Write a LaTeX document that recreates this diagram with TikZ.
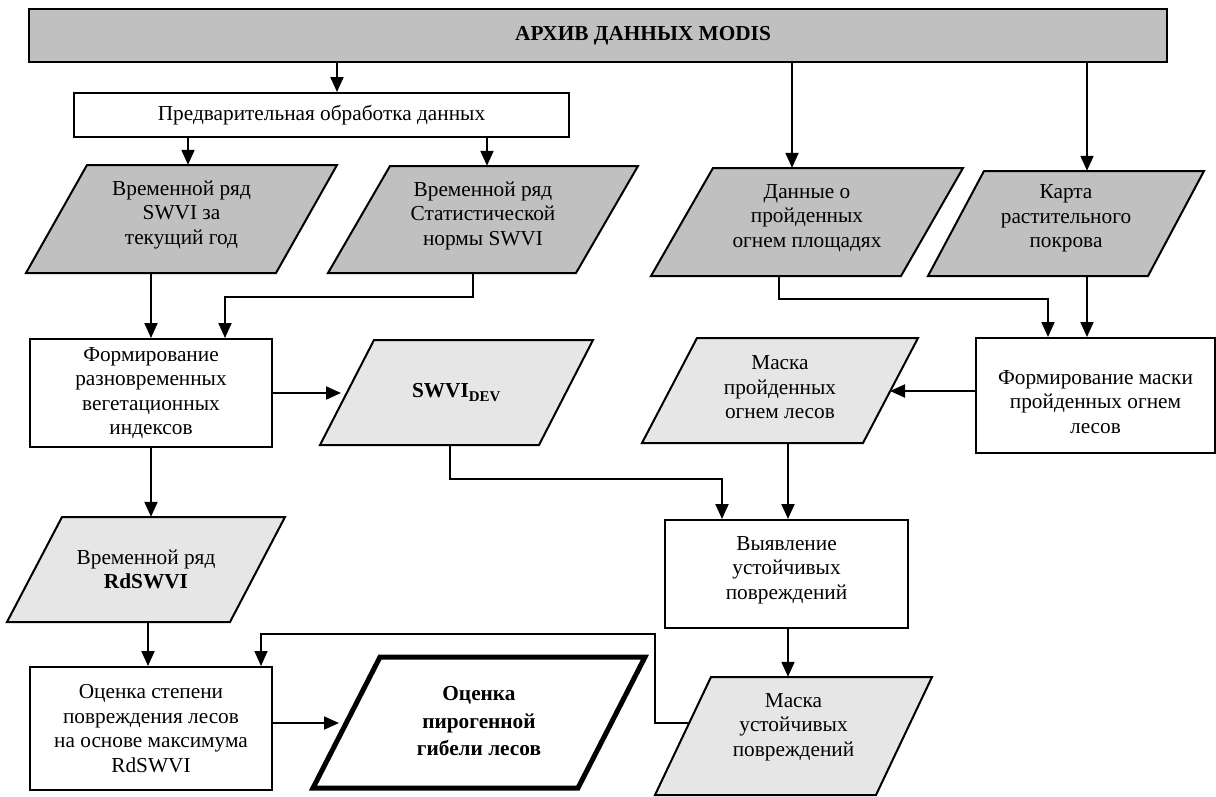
\documentclass[tikz,border=0pt]{standalone}
\usepackage{fontspec}
\setmainfont{Liberation Serif}
\usetikzlibrary{arrows.meta,calc}
\definecolor{dgray}{HTML}{C0C0C0}
\definecolor{lgray}{HTML}{E6E6E6}
\newcommand{\Para}[9]{%
  \filldraw[#2] (#3,#6) -- ({#4-#7},#6) -- (#4,#5) -- ({#3+#7},#5) -- cycle;
  \node[paranode, minimum width={#4-#3}, minimum height={#6-#5}] (#1) at ({(#3+#4)/2},{(#5+#6)/2}) {};
  \node[paranode, #8] (#1-t) at (#1.center) {#9};
}
\begin{document}
\begin{tikzpicture}[x=1pt,y=-1pt,
  every node/.style={font=\fontsize{21.3}{24.5}\selectfont},
  box/.style={draw, line width=2pt, fill=white, inner sep=0pt, align=center},
  paranode/.style={inner sep=0pt, align=center},
  dpara/.style={draw=black, line width=2pt, fill=dgray},
  lpara/.style={draw=black, line width=2pt, fill=lgray},
  wpara/.style={draw=black, line width=5pt, fill=white},
  arr/.style={line width=2pt, -{Triangle[length=15pt,width=13pt]}},
  ln/.style={line width=1.6pt, -{Triangle[length=15pt,width=13pt]}}
]
\useasboundingbox (0,0) rectangle (1216,796);
\fill[white] (0,0) rectangle (1216,796);

% top bar
\node[box, fill=dgray, minimum width=1138pt, minimum height=53pt] (bar) at (598,35.5) {};
\node[inner sep=0pt] (bart) at (643,36) {\textbf{АРХИВ ДАННЫХ MODIS}};

% preprocessing
\node[box, minimum width=495pt, minimum height=44pt] (pred) at (321.5,115) {Предварительная обработка данных};

% input parallelograms
\Para{p1}{dpara}{26}{337}{165}{273}{61}{yshift=4}{Временной ряд\\SWVI за\\текущий год}
\Para{p2}{dpara}{328}{638}{166}{273}{62}{yshift=4}{Временной ряд\\Статистической\\нормы SWVI}
\Para{p3}{dpara}{651}{963}{168}{276}{62}{yshift=4}{Данные о\\пройденных\\огнем площадях}
\Para{p4}{dpara}{928}{1204}{171}{276}{56}{yshift=5}{Карта\\растительного\\покрова}

% process boxes
\node[box, minimum width=242pt, minimum height=108pt] (form) at (151,393) {Формирование\\разновременных\\вегетационных\\индексов};
\node[box, minimum width=239pt, minimum height=115pt] (fmask) at (1095.5,395.5) {};
\node[inner sep=0pt, align=center, yshift=-6.5] (fmask-t) at (fmask.center) {Формирование маски\\пройденных огнем\\лесов};
\node[box, minimum width=243pt, minimum height=108pt] (vyy) at (786.5,574) {};
\node[inner sep=0pt, align=center, yshift=4] (vyy-t) at (vyy.center) {Выявление\\устойчивых\\повреждений};
\node[box, minimum width=242pt, minimum height=123pt] (ocen) at (151,728.5) {Оценка степени\\повреждения лесов\\на основе максимума\\RdSWVI};

% derived parallelograms
\Para{dev}{lpara}{320}{593}{340}{445}{54}{}{\textbf{SWVI\textsubscript{DEV}}}
\Para{mask}{lpara}{642}{918}{338}{443}{55}{yshift=3}{Маска\\пройденных\\огнем лесов}
\Para{rd}{lpara}{7}{285}{517}{622}{55}{}{Временной ряд\\\textbf{RdSWVI}}
\Para{mask2}{lpara}{655}{932}{677}{795}{56}{yshift=9}{Маска\\устойчивых\\повреждений}
\Para{final}{wpara}{313}{645}{657}{788}{67}{font=\fontsize{21.3}{27.5}\selectfont\bfseries, yshift=1}{Оценка\\пирогенной\\гибели лесов}

% connectors
\draw[arr] ([xshift=15.5]pred.north |- bar.south) -- ([xshift=15.5]pred.north);
\draw[arr] ([xshift=6.5]p1.north |- pred.south) -- ([xshift=6.5]p1.north);
\draw[arr] ([xshift=4]p2.north |- pred.south) -- ([xshift=4]p2.north);
\draw[arr] ([xshift=-15]p3.north |- bar.south) -- ([xshift=-15]p3.north);
\draw[arr] ([xshift=21]p4.north |- bar.south) -- ([xshift=21]p4.north);

\draw[arr] (form.north |- p1.south) -- (form.north);
\draw[arr] ([xshift=-10]p2.south) -- ++(0,24) -| ([xshift=74]form.north);
\draw[arr] ([xshift=-28]p3.south) -- ++(0,23) -| ([xshift=-47.5]fmask.north);
\draw[arr] ([xshift=21]p4.south) -- ([xshift=21]p4.south |- fmask.north);

\draw[arr] (form.east) -- ++(68,0);
\draw[arr] ([yshift=4.5]fmask.west) -- ++(-85,0);
\draw[arr] (form.south) -- (form.south |- rd.north);

\draw[arr] ([xshift=8]mask.south) -- ([xshift=8]mask.south |- vyy.north);
\draw[arr] ([xshift=-6.5]dev.south) -- ++(0,34) -| ([xshift=-64.5]vyy.north);
\draw[arr] ([xshift=1.5]vyy.south) -- ([xshift=1.5]vyy.south |- mask2.north);

\draw[arr] ([xshift=-3]ocen.north |- rd.south) -- ([xshift=-3]ocen.north);
\draw[ln] ([xshift=34,yshift=13]mask2.west) -- ([yshift=13]mask2.west) -- ++(0,-89) -| ([xshift=110]ocen.north);
\draw[arr] ([yshift=5.5]ocen.east) -- ++(66,0);
\end{tikzpicture}
\end{document}
